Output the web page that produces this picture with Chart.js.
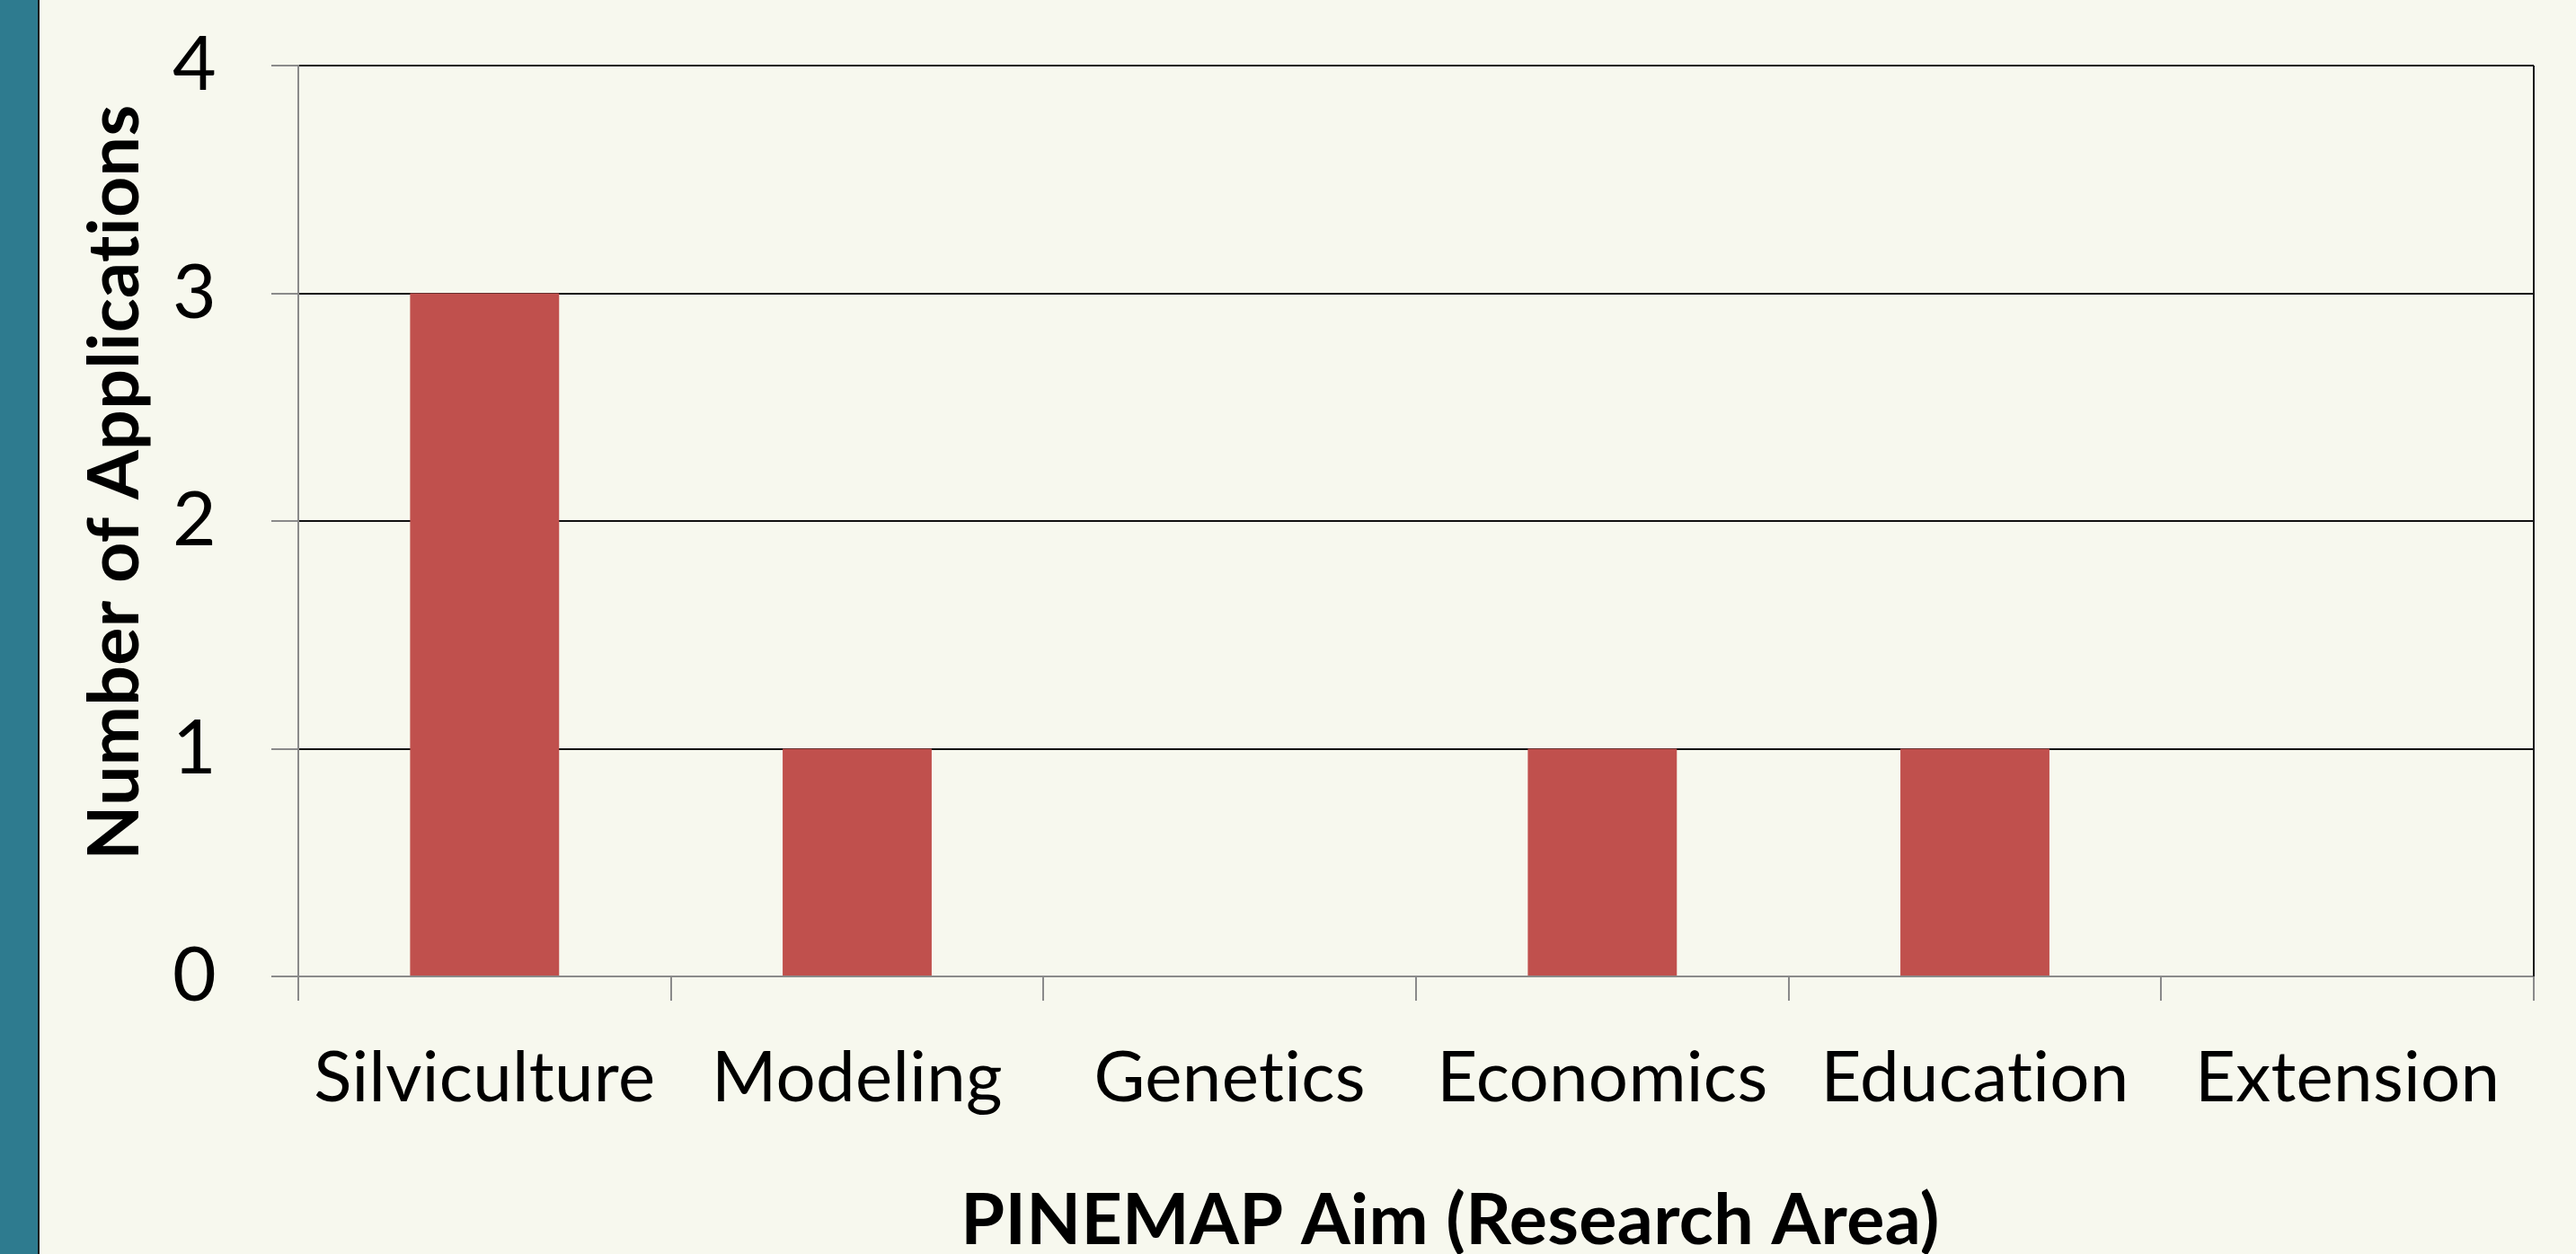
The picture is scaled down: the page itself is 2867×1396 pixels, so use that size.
<!DOCTYPE html>
<html lang="en">
<head>
    <meta charset="UTF-8">
    <title>PINEMAP Aim</title>
    <script src="https://cdn.jsdelivr.net/npm/chart.js"></script>
    <style>
        html, body { margin: 0; padding: 0; background: #f7f8ee; overflow: hidden; }
        #stripe { position: absolute; left: 0; top: 0; width: 42px; height: 1396px; background: #2e7b8f; border-right: 2px solid #1b1b1b; }
        #wrap { position: absolute; left: 0; top: 0; width: 2867px; height: 1396px; }
    </style>
</head>
<body>
    <div id="stripe"></div>
    <div id="wrap"><canvas id="chart" width="2867" height="1396"></canvas></div>

    <script>
        // Data
        const categories = ['Silviculture', 'Modeling', 'Genetics', 'Economics', 'Education', 'Extension'];
        const applications = [3, 1, 0, 1, 1, 0];
        const yTicks = [0, 1, 2, 3, 4];

        const xTitle = 'PINEMAP Aim (Research Area)';
        const yTitle = 'Number of Applications';

        // axis titles + right border of the plot area
        const decorations = {
            id: 'decorations',
            beforeDraw(chart) {
                // non-zero spacing keeps Lato from joining "ti"
                chart.ctx.letterSpacing = '0.3px';
            },
            afterDraw(chart) {
                const ctx = chart.ctx;
                const a = chart.chartArea;
                ctx.save();
                ctx.strokeStyle = '#1a1a1a';
                ctx.lineWidth = 2;
                ctx.beginPath();
                ctx.moveTo(a.right, a.top);
                ctx.lineTo(a.right, a.bottom);
                ctx.stroke();

                ctx.fillStyle = '#000';
                ctx.font = 'bold 79px Lato';
                ctx.textAlign = 'center';
                ctx.textBaseline = 'alphabetic';
                ctx.fillText(xTitle, 1614, 1385);

                ctx.translate(154, 537);
                ctx.rotate(-Math.PI / 2);
                ctx.fillText(yTitle, 0, 0);
                ctx.restore();
            }
        };

        const ctx = document.getElementById('chart').getContext('2d');
        new Chart(ctx, {
            type: 'bar',
            data: {
                labels: categories,
                datasets: [{
                    data: applications,
                    backgroundColor: '#c0504d',
                    borderWidth: 0,
                    barPercentage: 0.4,
                    categoryPercentage: 1
                }]
            },
            options: {
                responsive: false,
                animation: false,
                layout: { padding: { left: 0, right: 47, top: 73, bottom: 0 } },
                plugins: {
                    legend: { display: false },
                    tooltip: { enabled: false }
                },
                scales: {
                    x: {
                        grid: {
                            offset: true,
                            drawOnChartArea: false,
                            tickLength: 27,
                            tickColor: '#8a8a8a',
                            lineWidth: 2
                        },
                        border: { color: '#8a8a8a', width: 2 },
                        ticks: {
                            color: '#000',
                            font: { family: 'Lato', size: 78 },
                            padding: 40,
                            maxRotation: 0,
                            autoSkip: false
                        },
                        afterFit(scale) {
                            scale.height = 309;
                            scale.paddingLeft = 0;
                            scale.paddingRight = 0;
                        }
                    },
                    y: {
                        min: 0,
                        max: 4,
                        afterBuildTicks(scale) { scale.ticks = yTicks.map(v => ({ value: v })); },
                        grid: {
                            color: '#111',
                            lineWidth: 2,
                            tickLength: 30,
                            tickColor: '#8a8a8a'
                        },
                        border: { color: '#8a8a8a', width: 2 },
                        ticks: {
                            color: '#000',
                            font: { family: 'Lato', size: 84 },
                            padding: 61
                        },
                        afterFit(scale) {
                            scale.width = 332;
                            scale.paddingTop = 0;
                            scale.paddingBottom = 0;
                        }
                    }
                }
            },
            plugins: [decorations]
        });
    </script>
</body>
</html>
